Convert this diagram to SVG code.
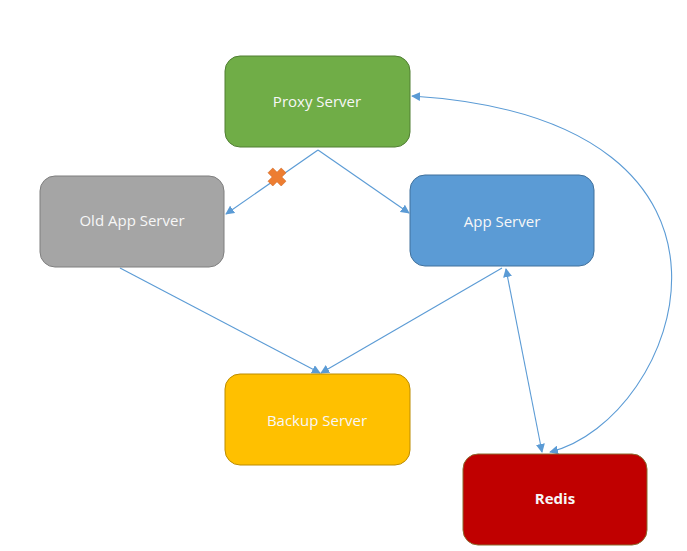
<svg xmlns="http://www.w3.org/2000/svg" width="687" height="551" viewBox="0 0 687 551">
<style>
.lbl{font-family:"Open Sans","Liberation Sans",sans-serif;font-size:15px;fill:#F7F7F7;text-anchor:middle;dominant-baseline:central}
.conn{fill:none;stroke:#5B9BD5;stroke-width:1.1}
</style>
<defs>
<marker id="ah" viewBox="0 0 10 10" refX="9" refY="5" markerWidth="9" markerHeight="9" markerUnits="userSpaceOnUse" orient="auto-start-reverse">
<path d="M0,0 L10,5 L0,10 Z" fill="#5B9BD5"/>
</marker>
</defs>
<rect width="687" height="551" fill="#fff"/>
<g id="connectors">
<line class="conn" x1="318" y1="150" x2="226" y2="214" marker-end="url(#ah)"/>
<line class="conn" x1="318" y1="150" x2="409" y2="213" marker-end="url(#ah)"/>
<line class="conn" x1="120" y1="268" x2="320" y2="373" marker-end="url(#ah)"/>
<line class="conn" x1="502" y1="268" x2="321" y2="373" marker-end="url(#ah)"/>
<line class="conn" x1="506" y1="269" x2="542" y2="452" marker-start="url(#ah)" marker-end="url(#ah)"/>
<path class="conn" d="M 550 452 C 680 420, 790 120, 412 96" marker-start="url(#ah)" marker-end="url(#ah)"/>
</g>
<g id="proxy">
<rect x="225" y="56" width="185" height="91" rx="15" fill="#70AD47" stroke="#507E32"/>
<text class="lbl" x="317" y="101">Proxy Server</text>
</g>
<g id="oldapp">
<rect x="40" y="176" width="184" height="91" rx="15" fill="#A5A5A5" stroke="#7F7F7F"/>
<text class="lbl" x="132" y="220">Old App Server</text>
</g>
<g id="app">
<rect x="410" y="175" width="184" height="91" rx="15" fill="#5B9BD5" stroke="#41719C"/>
<text class="lbl" x="502" y="221">App Server</text>
</g>
<g id="backup">
<rect x="225" y="374" width="185" height="91" rx="15" fill="#FFC000" stroke="#BC8C00"/>
<text class="lbl" x="317" y="420">Backup Server</text>
</g>
<g id="redis">
<rect x="463" y="454" width="184" height="91" rx="15" fill="#C00000" stroke="#8B6B2F"/>
<text class="lbl" x="555" y="498" style="font-weight:bold">Redis</text>
</g>
<g id="xmark">
<path d="M -3.5 -7.5 L 0 -4 L 3.5 -7.5 L 7.5 -3.5 L 4 0 L 7.5 3.5 L 3.5 7.5 L 0 4 L -3.5 7.5 L -7.5 3.5 L -4 0 L -7.5 -3.5 Z" transform="translate(277,177) scale(1.2)" fill="#ED7D31" stroke="#D06A26" stroke-width="0.5"/>
</g>
</svg>
